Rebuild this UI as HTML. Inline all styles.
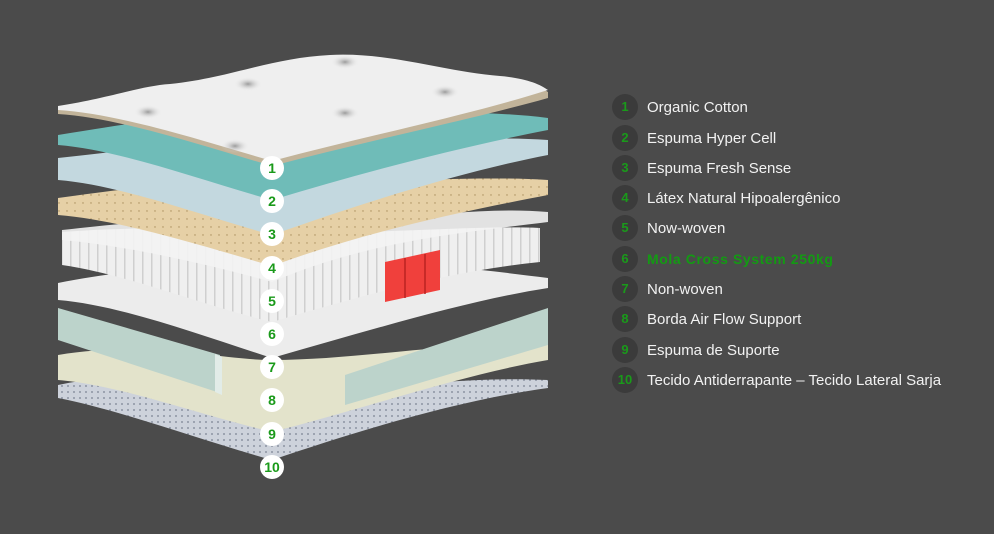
<!DOCTYPE html>
<html><head><meta charset="utf-8"><style>
html,body{margin:0;padding:0;background:#4b4b4b;}
body{width:994px;height:534px;position:relative;overflow:hidden;font-family:"Liberation Sans",sans-serif;}
svg{position:absolute;left:0;top:0;}
.leg{position:absolute;left:612px;}
.row{position:absolute;left:0;height:26px;width:400px;}
.c{position:absolute;left:0;top:0;width:26px;height:26px;border-radius:50%;background:#3b3b3b;color:#1a9a1a;font-weight:bold;font-size:13px;line-height:26px;text-align:center;}
.t{position:absolute;left:35px;top:5px;color:#f2f2f2;font-size:15px;white-space:nowrap;}
.g{color:#139a13;font-weight:bold;letter-spacing:0.6px;font-size:14px;}
</style></head><body>
<svg width="994" height="534" viewBox="0 0 994 534">
<defs>
<pattern id="dots" width="6" height="6" patternUnits="userSpaceOnUse"><rect width="6" height="6" fill="#cdd2db"/><circle cx="2" cy="2" r="0.9" fill="#7a8292"/></pattern>
<pattern id="lat" width="8" height="8" patternUnits="userSpaceOnUse"><rect width="8" height="8" fill="#e6d0a6"/><circle cx="3" cy="3" r="0.7" fill="#a88c5c"/></pattern>
<pattern id="spr" width="9" height="40" patternUnits="userSpaceOnUse"><rect width="9" height="40" fill="#efefef"/><rect x="7" width="1.5" height="40" fill="#cfcfcf"/></pattern>
<radialGradient id="dim"><stop offset="0" stop-color="#777"/><stop offset="1" stop-color="#efefef" stop-opacity="0"/></radialGradient>
</defs>
<path d="M58,385 C150,365 220,395 272,395 C340,395 450,375 548,380 L548,388 C460,400 360,430 272,460 C200,440 120,410 58,398 Z" fill="url(#dots)"/>
<path d="M58,355 C150,340 220,360 272,360 C360,360 460,340 548,345 L548,360 C460,375 360,410 272,432 C200,415 120,385 58,380 Z" fill="#e3e3cb"/>
<path d="M58,308 L220,355 L220,393 L58,340 Z" fill="#bcd3cb"/>
<path d="M345,375 L548,308 L548,345 L345,405 Z" fill="#bcd3cb"/>
<path d="M215,354 L222,357 L222,395 L215,392Z" fill="#e2ece8"/>
<path d="M58,283 C120,270 200,265 272,262 C380,258 470,268 548,278 L548,288 C470,300 370,330 272,358 C200,335 120,305 58,300 Z" fill="#ececec"/>
<path d="M62,232 C150,225 220,230 272,232 C380,235 470,225 540,228 L540,262 C460,270 380,290 272,322 C200,305 130,275 62,265 Z" fill="url(#spr)"/>
<path d="M385,262 L440,250 L440,290 L385,302 Z" fill="#f0403c"/>
<path d="M405,258 L405,298 M425,254 L425,294" stroke="#b22" stroke-width="1.5"/>
<path d="M62,230 C150,220 220,215 272,220 C380,225 470,205 548,212 L548,222 C470,232 370,240 272,282 C200,262 120,245 62,240 Z" fill="#f3f3f3" opacity="0.9"/>
<path d="M58,198 C150,185 220,178 272,180 C380,184 470,175 548,180 L548,195 C470,210 370,230 272,266 C200,245 120,220 58,215 Z" fill="url(#lat)"/>
<path d="M58,158 C150,148 220,138 272,140 C380,144 470,135 548,140 L548,155 C470,170 370,200 272,235 C200,215 120,185 58,180 Z" fill="#c3d8df"/>
<path d="M58,135 C150,120 220,110 272,112 C380,115 470,108 548,118 L548,130 C470,145 370,170 272,200 C200,180 120,150 58,145 Z" fill="#6fbcb8"/>
<path d="M58,108 C110,100 140,88 170,86 C230,80 270,60 330,57 C390,54 440,73 500,78 C525,80 540,86 548,92 L548,98 C470,120 370,140 272,166 C200,145 120,118 58,114 Z" fill="#c2b49a"/>
<path d="M58,106 C110,98 140,86 170,84 C230,78 270,58 330,55 C390,52 440,71 500,76 C525,78 540,84 548,90 C470,115 370,135 272,161 C200,140 120,114 58,110 Z" fill="#efefef"/>
<g fill="url(#dim)" opacity="0.7">
<ellipse cx="148" cy="112" rx="14" ry="7"/><ellipse cx="248" cy="84" rx="14" ry="7"/><ellipse cx="345" cy="62" rx="14" ry="7"/>
<ellipse cx="345" cy="113" rx="14" ry="7"/><ellipse cx="445" cy="92" rx="14" ry="7"/><ellipse cx="235" cy="146" rx="14" ry="7"/>
</g>
<g font-family="Liberation Sans, sans-serif" font-weight="bold" font-size="14" fill="#1a9a1a" text-anchor="middle">
<circle cx="272" cy="168" r="12" fill="#fff"/><text x="272" y="173">1</text>
<circle cx="272" cy="201" r="12" fill="#fff"/><text x="272" y="206">2</text>
<circle cx="272" cy="234" r="12" fill="#fff"/><text x="272" y="239">3</text>
<circle cx="272" cy="268" r="12" fill="#fff"/><text x="272" y="273">4</text>
<circle cx="272" cy="301" r="12" fill="#fff"/><text x="272" y="306">5</text>
<circle cx="272" cy="334" r="12" fill="#fff"/><text x="272" y="339">6</text>
<circle cx="272" cy="367" r="12" fill="#fff"/><text x="272" y="372">7</text>
<circle cx="272" cy="400" r="12" fill="#fff"/><text x="272" y="405">8</text>
<circle cx="272" cy="434" r="12" fill="#fff"/><text x="272" y="439">9</text>
<circle cx="272" cy="467" r="12" fill="#fff"/><text x="272" y="472">10</text>
</g>
</svg>
<div class="leg" style="top:94px">
<div class="row" style="top:0"><div class="c">1</div><div class="t">Organic Cotton</div></div>
<div class="row" style="top:30.5px"><div class="c">2</div><div class="t">Espuma Hyper Cell</div></div>
<div class="row" style="top:61px"><div class="c">3</div><div class="t">Espuma Fresh Sense</div></div>
<div class="row" style="top:91px"><div class="c">4</div><div class="t">Látex Natural Hipoalergênico</div></div>
<div class="row" style="top:121px"><div class="c">5</div><div class="t">Now-woven</div></div>
<div class="row" style="top:152px"><div class="c">6</div><div class="t g">Mola Cross System 250kg</div></div>
<div class="row" style="top:182px"><div class="c">7</div><div class="t">Non-woven</div></div>
<div class="row" style="top:212px"><div class="c">8</div><div class="t">Borda Air Flow Support</div></div>
<div class="row" style="top:243px"><div class="c">9</div><div class="t">Espuma de Suporte</div></div>
<div class="row" style="top:273px"><div class="c">10</div><div class="t">Tecido Antiderrapante – Tecido Lateral Sarja</div></div>
</div>
</body></html>
